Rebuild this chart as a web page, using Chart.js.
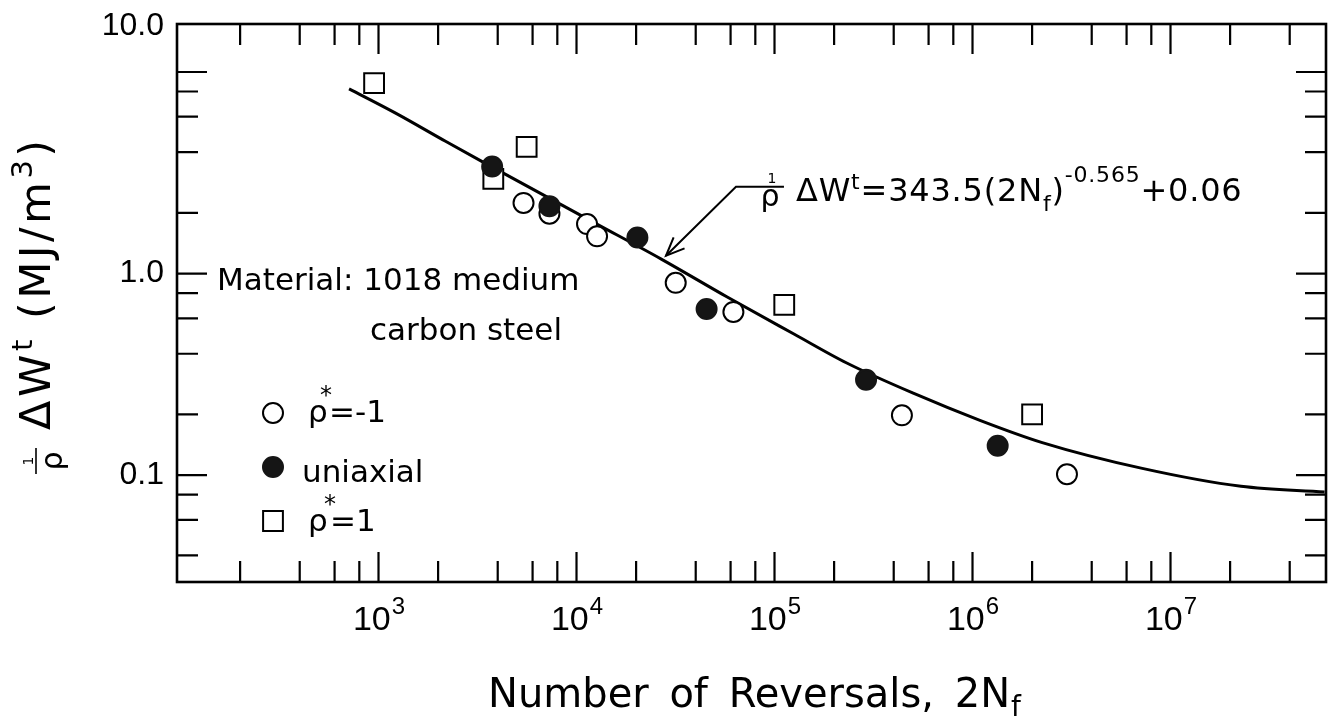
<!DOCTYPE html>
<html>
<head>
<meta charset="utf-8">
<script src="https://cdn.jsdelivr.net/npm/chart.js@4.4.1/dist/chart.umd.min.js"></script>
<style>
    html, body { margin: 0; padding: 0; background: #fff; }
</style>
</head>
<body>
<canvas id="graficoEnergia" width="1342" height="720"></canvas>
<script>
// valores (2Nf, energia em MJ/m3)
const curvaCiclos = [710, 1220, 2180, 3340, 12400, 26800, 57700, 126000, 231700, 502000, 1090000, 2250000, 7200000, 22700000, 60000000];
const curvaEnergia = [8.25, 6.25, 4.53, 3.59, 1.78, 1.18, 0.765, 0.50, 0.36, 0.255, 0.187, 0.145, 0.108, 0.088, 0.0825];

const abertoCiclos = [5400, 7300, 11300, 12700, 31700, 62000, 440000, 3000000];
const abertoEnergia = [2.24, 1.98, 1.76, 1.53, 0.90, 0.645, 0.198, 0.101];

const uniaxialCiclos = [3750, 7300, 20300, 45400, 290000, 1340000];
const uniaxialEnergia = [3.40, 2.16, 1.51, 0.667, 0.297, 0.140];

const quadradoCiclos = [950, 3800, 5600, 112000, 2000000];
const quadradoEnergia = [8.8, 2.95, 4.25, 0.70, 0.20];

const xMin = 96, xMax = 6.1e7;
const yMin = 0.0295, yMax = 17.3;

const xMaiores = [1e3, 1e4, 1e5, 1e6, 1e7];
const xExpoentes = ['3', '4', '5', '6', '7'];
const xMenores = [200, 400, 600, 800, 2e3, 4e3, 6e3, 8e3, 2e4, 4e4, 6e4, 8e4,
    2e5, 4e5, 6e5, 8e5, 2e6, 4e6, 6e6, 8e6, 2e7, 4e7];
const yMaiores = [0.1, 1, 10];
const yMenores = [0.04, 0.06, 0.08, 0.2, 0.4, 0.6, 0.8, 2, 4, 6, 8];
const yRotuloValores = [0.1, 1, yMax];
const yRotuloTextos = ['0.1', '1.0', '10.0'];

const fonteTick = '"Liberation Sans", Arial, sans-serif';
const fonteTexto = '"DejaVu Sans", sans-serif';

const pares = (xs, ys) => xs.map((x, i) => ({ x: x, y: ys[i] }));

// escreve pedaços de texto seguidos: [texto, tamanho, deslocamento vertical]
function textoComposto(ctx, partes, x, y) {
    let cx = x;
    partes.forEach(([t, tam, dy]) => {
        ctx.font = tam + 'px ' + fonteTexto;
        ctx.fillText(t, cx, y + dy);
        cx += ctx.measureText(t).width;
    });
    return cx;
}

const desenhoEixos = {
    id: 'desenhoEixos',
    afterDraw(chart) {
        const ctx = chart.ctx;
        const { left, right, top, bottom } = chart.chartArea;
        const sx = chart.scales.x;
        const sy = chart.scales.y;

        ctx.save();
        ctx.strokeStyle = '#000';
        ctx.fillStyle = '#000';

        // moldura
        ctx.lineWidth = 2.6;
        ctx.strokeRect(left, top, right - left, bottom - top);

        // marcas para dentro nos quatro lados
        ctx.lineWidth = 2.2;
        ctx.beginPath();
        const marcaX = (v, tam) => {
            const p = sx.getPixelForValue(v);
            ctx.moveTo(p, bottom); ctx.lineTo(p, bottom - tam);
            ctx.moveTo(p, top); ctx.lineTo(p, top + tam);
        };
        const marcaY = (v, tam) => {
            const p = sy.getPixelForValue(v);
            ctx.moveTo(left, p); ctx.lineTo(left + tam, p);
            ctx.moveTo(right, p); ctx.lineTo(right - tam, p);
        };
        xMaiores.forEach(v => marcaX(v, 30));
        xMenores.forEach(v => marcaX(v, 21));
        yMaiores.forEach(v => marcaY(v, 30));
        yMenores.forEach(v => marcaY(v, 21));
        ctx.stroke();

        // rótulos do eixo x (10 com expoente)
        ctx.textBaseline = 'alphabetic';
        ctx.textAlign = 'left';
        xMaiores.forEach((v, i) => {
            const p = sx.getPixelForValue(v);
            ctx.font = '34px ' + fonteTick;
            const w1 = ctx.measureText('10').width;
            ctx.font = '24px ' + fonteTick;
            const w2 = ctx.measureText(xExpoentes[i]).width;
            const x0 = p - (w1 + w2) / 2;
            ctx.font = '34px ' + fonteTick;
            ctx.fillText('10', x0, 630);
            ctx.font = '24px ' + fonteTick;
            ctx.fillText(xExpoentes[i], x0 + w1 + 1, 614);
        });

        // rótulos do eixo y
        ctx.font = '32px ' + fonteTick;
        ctx.textAlign = 'right';
        ctx.textBaseline = 'middle';
        yRotuloValores.forEach((v, i) => {
            const p = Math.max(sy.getPixelForValue(v), top + 2);
            ctx.fillText(yRotuloTextos[i], 164, p);
        });

        // título do eixo x
        ctx.textAlign = 'left';
        ctx.textBaseline = 'alphabetic';
        ctx.font = '40px ' + fonteTexto;
        if ('wordSpacing' in ctx) ctx.wordSpacing = '8px';
        ctx.fillText('Number of Reversals, 2N', 488, 707);
        const fimTitulo = 488 + ctx.measureText('Number of Reversals, 2N').width;
        if ('wordSpacing' in ctx) ctx.wordSpacing = '0px';
        ctx.font = '28px ' + fonteTexto;
        ctx.fillText('f', fimTitulo + 1, 716);

        // título do eixo y (girado)
        ctx.save();
        ctx.translate(50, 477);
        ctx.rotate(-Math.PI / 2);
        ctx.lineWidth = 1.6;
        ctx.beginPath();
        ctx.moveTo(3, -14); ctx.lineTo(29, -14);
        ctx.stroke();
        ctx.textAlign = 'center';
        ctx.font = '14px ' + fonteTexto;
        ctx.fillText('1', 16, -17);
        ctx.font = '30px ' + fonteTexto;
        ctx.fillText('ρ', 16, 12);
        ctx.textAlign = 'left';
        if ('letterSpacing' in ctx) ctx.letterSpacing = '3.5px';
        textoComposto(ctx, [['ΔW', 43, 0], ['t', 29, -18], [' (MJ/m', 43, 0], ['3', 29, -18], [')', 43, 0]], 47, 0);
        if ('letterSpacing' in ctx) ctx.letterSpacing = '0px';
        ctx.restore();

        // nota do material
        ctx.font = '31px ' + fonteTexto;
        ctx.fillText('Material: 1018 medium', 217, 290);
        ctx.fillText('carbon steel', 370, 340);

        // legenda dentro do gráfico, com o estilo de cada série
        const legenda = [
            { ds: 1, y: 413 },
            { ds: 0, y: 467 },
            { ds: 2, y: 521 }
        ];
        legenda.forEach(item => {
            const opc = chart.getDatasetMeta(item.ds).controller.getStyle(0);
            ctx.fillStyle = opc.backgroundColor;
            ctx.strokeStyle = opc.borderColor;
            ctx.lineWidth = opc.borderWidth;
            ctx.beginPath();
            if (opc.pointStyle === 'rect') {
                const s = opc.radius * Math.SQRT1_2;
                ctx.rect(273 - s, item.y - s, 2 * s, 2 * s);
            } else {
                ctx.arc(273, item.y, opc.radius, 0, Math.PI * 2);
            }
            ctx.fill();
            ctx.stroke();
        });
        ctx.fillStyle = '#000';
        ctx.font = '31px ' + fonteTexto;
        ctx.fillText('uniaxial', 302, 482);
        ctx.fillText('ρ', 308, 422);
        ctx.fillText('=-1', 329, 422);
        ctx.fillText('ρ', 308, 531);
        ctx.fillText('=1', 330, 531);
        ctx.font = '24px ' + fonteTexto;
        ctx.textAlign = 'center';
        ctx.fillText('*', 326, 403);
        ctx.fillText('*', 330, 512);

        // equação com seta apontando para a curva
        const ponta = { x: sx.getPixelForValue(28300), y: sy.getPixelForValue(1.225) };
        const cotovelo = { x: ponta.x + 70, y: ponta.y - 69 };
        ctx.strokeStyle = '#000';
        ctx.lineWidth = 2;
        ctx.beginPath();
        ctx.moveTo(ponta.x, ponta.y);
        ctx.lineTo(cotovelo.x, cotovelo.y);
        ctx.lineTo(cotovelo.x + 48, cotovelo.y);
        ctx.stroke();
        const ang = Math.atan2(cotovelo.y - ponta.y, cotovelo.x - ponta.x);
        ctx.beginPath();
        ctx.moveTo(ponta.x + 20 * Math.cos(ang - 0.4), ponta.y + 20 * Math.sin(ang - 0.4));
        ctx.lineTo(ponta.x, ponta.y);
        ctx.lineTo(ponta.x + 20 * Math.cos(ang + 0.4), ponta.y + 20 * Math.sin(ang + 0.4));
        ctx.stroke();

        ctx.font = '14px ' + fonteTexto;
        ctx.fillText('1', cotovelo.x + 36, cotovelo.y - 4);
        ctx.font = '30px ' + fonteTexto;
        ctx.fillText('ρ', cotovelo.x + 34, cotovelo.y + 19);
        ctx.textAlign = 'left';
        if ('letterSpacing' in ctx) ctx.letterSpacing = '0.8px';
        textoComposto(ctx, [
            ['ΔW', 32, 0], ['t', 22, -12], ['=343.5(2N', 32, 0], ['f', 22, 10],
            [')', 32, 0], ['-0.565', 22, -19], ['+0.06', 32, 0]
        ], cotovelo.x + 60, cotovelo.y + 14);
        if ('letterSpacing' in ctx) ctx.letterSpacing = '0px';

        ctx.restore();
    }
};

const ctx = document.getElementById('graficoEnergia');

new Chart(ctx, {
    type: 'scatter',
    data: {
        datasets: [
            {
                label: 'uniaxial',
                data: pares(uniaxialCiclos, uniaxialEnergia),
                pointStyle: 'circle',
                pointRadius: 10,
                backgroundColor: '#151515',
                borderColor: '#151515',
                borderWidth: 2,
                order: 1
            },
            {
                label: 'ρ*=-1',
                data: pares(abertoCiclos, abertoEnergia),
                pointStyle: 'circle',
                pointRadius: 10,
                backgroundColor: '#ffffff',
                borderColor: '#000000',
                borderWidth: 2,
                order: 2
            },
            {
                label: 'ρ*=1',
                data: pares(quadradoCiclos, quadradoEnergia),
                pointStyle: 'rect',
                pointRadius: 14,
                backgroundColor: '#ffffff',
                borderColor: '#000000',
                borderWidth: 2,
                order: 3
            },
            {
                label: 'ajuste',
                data: pares(curvaCiclos, curvaEnergia),
                showLine: true,
                pointRadius: 0,
                borderColor: '#000000',
                borderWidth: 3,
                cubicInterpolationMode: 'monotone',
                order: 4
            }
        ]
    },
    options: {
        responsive: false,
        animation: false,
        events: [],
        layout: {
            padding: { left: 177, right: 7, top: 24, bottom: 138 }
        },
        scales: {
            x: { type: 'logarithmic', min: xMin, max: xMax, display: false },
            y: { type: 'logarithmic', min: yMin, max: yMax, display: false }
        },
        plugins: {
            legend: { display: false },
            tooltip: { enabled: false }
        }
    },
    plugins: [desenhoEixos]
});
</script>
</body>
</html>
